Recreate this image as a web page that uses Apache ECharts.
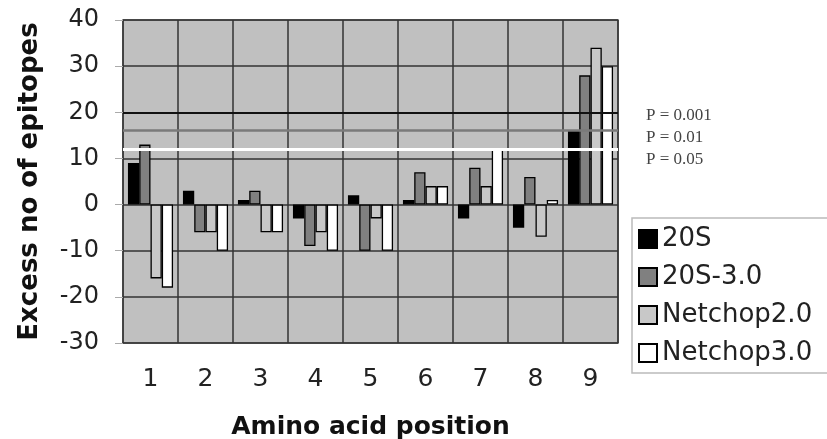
<!DOCTYPE html>
<html>
<head>
<meta charset="utf-8">
<script src="https://cdn.jsdelivr.net/npm/echarts@6/dist/echarts.min.js"></script>
<style>
    html, body { margin: 0; padding: 0; background: #fff; }
    #main { width: 827px; height: 439px; }
</style>
</head>
<body>
<div id="main"></div>
<script>
// amino acid positions
var positions = ['1', '2', '3', '4', '5', '6', '7', '8', '9'];
// excess number of epitopes per method
var s20S    = [9, 3, 1, -3, 2, 1, -3, -5, 16];
var s20S30  = [13, -6, 3, -9, -10, 7, 8, 6, 28];
var netchop2 = [-16, -6, -6, -6, -3, 4, 4, -7, 34];
var netchop3 = [-18, -10, -6, -10, -10, 4, 12, 1, 30];
// significance thresholds
var pLevels = [20, 16, 12];
var pLabels = ['P = 0.001', 'P = 0.01', 'P = 0.05'];
var yTicks = [-30, 40, 10]; // min, max, step

var font = 'DejaVu Sans';

var chart = echarts.init(document.getElementById('main'));

function barSeries(name, data, color) {
    return {
        name: name,
        type: 'bar',
        data: data,
        barGap: '0%',
        barCategoryGap: '18%',
        itemStyle: {
            color: color,
            borderColor: '#000',
            borderWidth: 1.3
        }
    };
}

var pColors = ['#111', '#7a7a7a', '#fff'];
var pWidths = [2, 2.5, 3];

// one empty line series per threshold, just to carry the markLine
function thresholdSeries(i) {
    return {
        name: pLabels[i],
        type: 'line',
        data: [],
        z: 10,
        markLine: {
            silent: true,
            symbol: 'none',
            label: { show: false },
            lineStyle: { color: pColors[i], width: pWidths[i], type: 'solid', opacity: 1 },
            data: [{ yAxis: pLevels[i] }]
        }
    };
}

var option = {
    backgroundColor: '#fff',
    animation: false,
    grid: {
        left: 123,
        right: 209,
        top: 20,
        bottom: 96,
        outerBoundsMode: 'none',
        show: true,
        backgroundColor: '#c0c0c0',
        borderColor: '#555',
        borderWidth: 1.5
    },
    legend: {
        orient: 'vertical',
        left: 632,
        top: 218,
        padding: [8, 40, 7, 6],
        itemWidth: 18,
        itemHeight: 18,
        itemGap: 12,
        icon: 'rect',
        borderColor: '#bbb',
        borderWidth: 1.5,
        backgroundColor: '#fff',
        textStyle: { fontFamily: font, fontSize: 26, lineHeight: 26, color: '#222' },
        data: ['20S', '20S-3.0', 'Netchop2.0', 'Netchop3.0']
    },
    xAxis: {
        type: 'category',
        data: positions,
        name: 'Amino acid position',
        nameLocation: 'middle',
        nameGap: 72,
        nameTextStyle: { fontFamily: font, fontSize: 25, fontWeight: 'bold', color: '#111' },
        axisLine: { show: false },
        axisTick: { show: false },
        axisLabel: { fontFamily: font, fontSize: 25, color: '#222', margin: 24 },
        splitLine: { show: true, lineStyle: { color: '#333', width: 1.5 } }
    },
    yAxis: {
        type: 'value',
        min: yTicks[0],
        max: yTicks[1],
        interval: yTicks[2],
        name: 'Excess no of epitopes',
        nameLocation: 'middle',
        nameGap: 80,
        nameTextStyle: { fontFamily: font, fontSize: 26, fontWeight: 'bold', color: '#111' },
        axisLine: { show: false },
        axisTick: { show: true, length: 8, lineStyle: { color: '#aaa' } },
        axisLabel: { fontFamily: font, fontSize: 24, color: '#222', margin: 24 },
        splitLine: { show: true, lineStyle: { color: '#333', width: 1.5 } }
    },
    series: [
        barSeries('20S', s20S, '#000'),
        barSeries('20S-3.0', s20S30, '#808080'),
        barSeries('Netchop2.0', netchop2, '#c8c8c8'),
        barSeries('Netchop3.0', netchop3, '#fff'),
        thresholdSeries(0),
        thresholdSeries(1),
        thresholdSeries(2)
    ],
    graphic: pLabels.map(function (t, i) {
        return {
            type: 'text',
            left: 646,
            top: 107 + i * 22,
            style: { text: t, font: '17px "Liberation Serif"', fill: '#444' }
        };
    })
};

chart.setOption(option);
</script>
</body>
</html>
